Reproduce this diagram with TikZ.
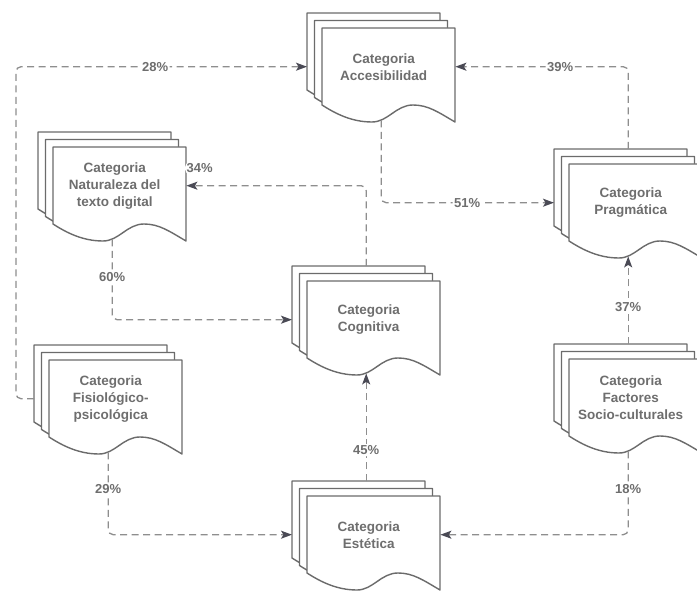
\documentclass[tikz,border=0pt]{standalone}
\usepackage{fontspec}
\setmainfont{Liberation Sans}
\usetikzlibrary{arrows.meta,backgrounds,positioning}
\definecolor{sheetgray}{HTML}{6B6B6B}
\definecolor{textgray}{HTML}{6E6E6E}
\definecolor{linegray}{HTML}{8E8E8E}
\definecolor{tipgray}{HTML}{4A4A55}

\begin{document}
\begin{tikzpicture}[x=1pt,y=1pt,>={Stealth[length=11pt,width=8pt,inset=2.5pt,color=tipgray]}]

  \tikzstyle{cat}=[rectangle,minimum width=123pt,minimum height=77pt,inner sep=0pt,
  		  anchor=north west,align=center,text=textgray,
  		  font=\fontsize{13.5}{17}\selectfont\bfseries]
  \tikzstyle{sheet}=[draw=sheetgray,line width=1.4pt,fill=white,line join=round]
  \tikzstyle{flow}=[draw=linegray,line width=1.3pt,dash pattern=on 7pt off 4.5pt,
  		   rounded corners=5pt,->]
  \tikzstyle{hv}=[to path={|- (\tikztotarget) \tikztonodes}]
  \tikzstyle{wrap}=[to path={-- ++(-18,0) |- (\tikztotarget) \tikztonodes}]
  \tikzstyle{pct}=[fill=white,inner sep=1.5pt,text=textgray,
  		  font=\fontsize{13}{15}\selectfont\bfseries]

  \useasboundingbox (0,0) rectangle (697,590);

  \node [cat] (acc)  at (322,562) {Categoria\\Accesibilidad};
  \node [cat] (nat)  at (53,443)  {Categoria\\Naturaleza del\\texto digital};
  \node [cat] (prag) at (569,426) {Categoria\\Pragmática};
  \node [cat] (cog)  at (307,309) {Categoria\\Cognitiva};
  \node [cat] (fis)  at (49,230)  {Categoria\\Fisiológico-\\psicológica};
  \node [cat] (est)  at (307,94)  {Categoria\\Estética};
  \node [cat] (soc)  at (569,231) {Categoria\\Factores\\Socio-culturales};

  \foreach \n in {acc,nat,prag,cog,fis,est,soc} {
    \coordinate (\n-w) at ([xshift=-15pt]\n.west);
    \coordinate (\n-e) at ([xshift=10pt]\n.east);
    \coordinate (\n-n) at ([shift={(-2.5,15)}]\n.north);
    \coordinate (\n-s) at ([shift={(-2.5,-15)}]\n.south);
  }

  \begin{pgfonlayer}{background}
    \foreach \n in {acc,nat,prag,cog,fis,est,soc} {
      \foreach \o in {15,7.5,0}
        \draw [sheet,shift={(\n.north west)},shift={(-\o,\o)}]
          (0,0) -- (133,0) -- (133,-94)
          .. controls (116,-84) and (106,-77) .. (91,-77)
          .. controls (74,-77) and (66,-94) .. (50,-94)
          .. controls (30,-94) and (14,-86) .. (0,-77) -- cycle;
    }
  \end{pgfonlayer}

  \path
  (fis-w)  edge [flow,wrap] node [pct,pos=.739] {28\%} (acc-w)
  (prag-n) edge [flow,hv]   node [pct,pos=.697] {39\%} (acc-e)
  (acc-s)  edge [flow,hv]   node [pct,pos=.749] {51\%} (prag-w)
  (cog-n)  edge [flow,hv]   node [pct,pos=1,anchor=west,xshift=-2pt,yshift=17.5pt] {34\%} (nat-e)
  (nat-s)  edge [flow,hv]   node [pct,pos=.236] {60\%} (cog-w)
  (est-n)  edge [flow]      node [pct,pos=.287] {45\%} (cog-s)
  (soc-n)  edge [flow]      node [pct,pos=.42]  {37\%} (prag-s)
  (fis-s)  edge [flow,hv]   node [pct,pos=.224] {29\%} (est-w)
  (soc-s)  edge [flow,hv]   node [pct,pos=.228] {18\%} (est-e);

\end{tikzpicture}
\end{document}
